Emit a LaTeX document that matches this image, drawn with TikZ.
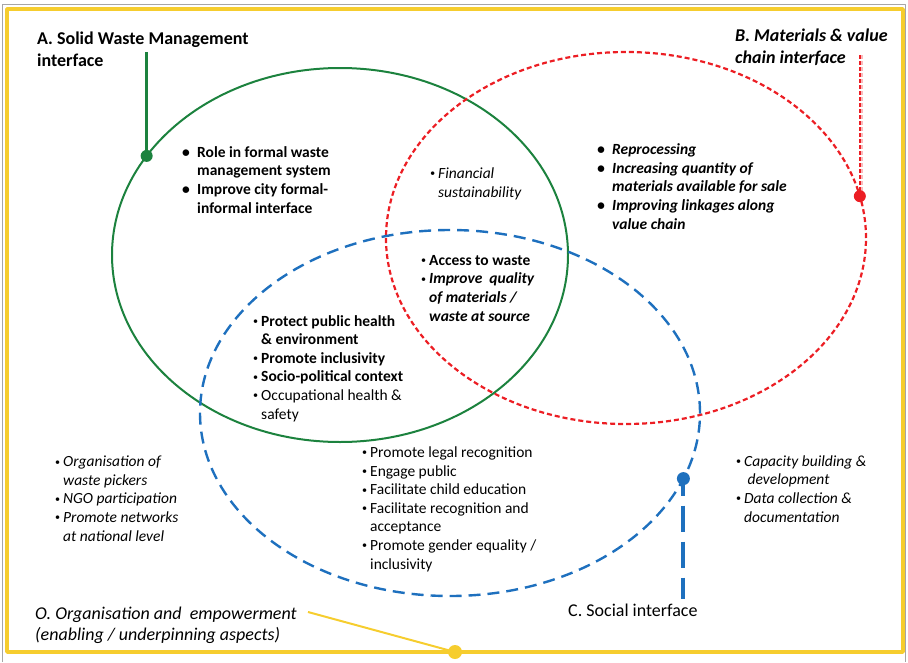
\documentclass[tikz,border=0pt]{standalone}
\usepackage{fontspec}
\setmainfont{Carlito}
\definecolor{swmgreen}{RGB}{28,130,62}
\definecolor{mvred}{RGB}{236,30,36}
\definecolor{socblue}{RGB}{30,112,190}
\definecolor{orgyellow}{RGB}{246,205,46}
\newcommand{\lstfont}{\fontsize{15.5}{18.6}\selectfont}
\newcommand{\ttlfont}{\fontsize{18}{22}\selectfont}
\newcommand{\bA}{\makebox[15pt][l]{\textbullet}}
\newcommand{\iA}{\hspace*{15pt}}
\newcommand{\bC}{\makebox[8pt][l]{\raisebox{1.5pt}{\scalebox{0.65}{\textbullet}}}}
\newcommand{\iC}{\hspace*{8pt}}
\begin{document}
\begin{tikzpicture}[x=1pt,y=-1pt,line join=round,
  lst/.style={anchor=base west,inner sep=0pt,align=left},
  ttl/.style={anchor=base west,inner sep=0pt,align=left}]
\useasboundingbox (0,0) rectangle (908,662);
% frame
\draw[gray!70,line width=0.8pt] (2.5,662)--(2.5,4)--(905.5,4)--(905.5,662);
\draw[orgyellow,line width=3.5pt] (7,9) rectangle (903,652);
% the three interfaces
\coordinate (cA) at (340,255);
\coordinate (cB) at (626,238);
\coordinate (cC) at (450,413);
\draw[swmgreen,line width=2pt] (cA) ellipse [x radius=228pt,y radius=187pt];
\draw[mvred,line width=2.2pt,dash pattern=on 5pt off 3pt] (cB) ellipse [x radius=240pt,y radius=186pt];
\draw[socblue,line width=2.4pt,dash pattern=on 12pt off 7pt] (cC) ellipse [x radius=250pt,y radius=183pt];
% labels (base = last line)
\node[ttl,font=\ttlfont\bfseries] (labA) at (37,66) {A. Solid Waste Management\\interface};
\node[ttl,font=\ttlfont\bfseries\itshape] (labB) at (735,63) {B. Materials \& value\\chain interface};
\node[ttl,font=\ttlfont] (labC) at (568,616) {C. Social interface};
\node[ttl,font=\fontsize{18}{21}\selectfont\itshape] (labO) at (35,640) {O. Organisation and\ \ empowerment\\(enabling / underpinning aspects)};
% dots and connectors
\path (cA) ++(212:228 and 187) coordinate (dA);
\path (cB) ++(347:240 and 186) coordinate (dB);
\path (cC) ++(21:250 and 183) coordinate (dC);
\coordinate (dO) at (455,652);
\coordinate (eA) at (dA |- 0,52);
\coordinate (eB) at (dB |- 0,55);
\coordinate (eC) at (dC |- 0,599);
\coordinate (eO) at (308,612);
\draw[swmgreen,line width=3pt] (eA)--(dA);
\draw[mvred!30,line width=3pt,dash pattern=on 4pt off 2pt] ([xshift=1.5pt]eB)--([xshift=1.5pt]dB);
\draw[mvred,line width=2.4pt,dash pattern=on 4pt off 2pt] (eB)--(dB);
\draw[socblue,line width=4pt,dash pattern=on 26pt off 10pt,dash phase=9pt] (dC)--(eC);
\draw[orgyellow,line width=2pt] (eO)--(dO);
\fill[swmgreen] (dA) circle (6pt);
\fill[mvred] (dB) circle (6pt);
\fill[socblue] (dC) circle (6.5pt);
\fill[orgyellow] (dO) circle (7pt);
% lists (base = last line)
\node[lst,font=\lstfont\bfseries] (txtA) at (182,213) {\bA Role in formal waste\\\iA management system\\\bA Improve city formal-\\\iA informal interface};
\node[lst,font=\lstfont\bfseries\itshape] (txtB) at (597,229) {\bA Reprocessing\\\bA Increasing quantity of\\\iA materials available for sale\\\bA Improving linkages along\\\iA value chain};
\node[lst,font=\lstfont\itshape] (txtAB) at (430,197) {\bC Financial\\\iC sustainability};
\node[lst,font=\lstfont] (txtABC) at (421,321) {\bC{\bfseries Access to waste}\\\bC{\bfseries\itshape Improve\ \ quality}\\\iC{\bfseries\itshape of materials /}\\\iC{\bfseries\itshape waste at source}};
\node[lst,font=\lstfont] (txtAC) at (253,419) {\bC{\bfseries Protect public health}\\\iC{\bfseries \& environment}\\\bC{\bfseries Promote inclusivity}\\\bC{\bfseries Socio-political context}\\\bC Occupational health \&\\\iC safety};
\node[lst,font=\lstfont] (txtC) at (362,569) {\bC Promote legal recognition\\\bC Engage public\\\bC Facilitate child education\\\bC Facilitate recognition and\\\iC acceptance\\\bC Promote gender equality /\\\iC inclusivity};
\node[lst,font=\lstfont] (txtO) at (55,541) {\bC{\itshape Organisation of}\\\iC{\itshape waste pickers}\\\bC{\itshape NGO participation}\\\bC{\itshape Promote networks}\\\iC{\itshape at national level}};
\node[lst,font=\lstfont] (txtR) at (736,522) {\bC{\itshape Capacity building \&}\\\iC{\itshape\ development}\\\bC{\itshape Data collection \&}\\\iC{\itshape documentation}};
\end{tikzpicture}
\end{document}
